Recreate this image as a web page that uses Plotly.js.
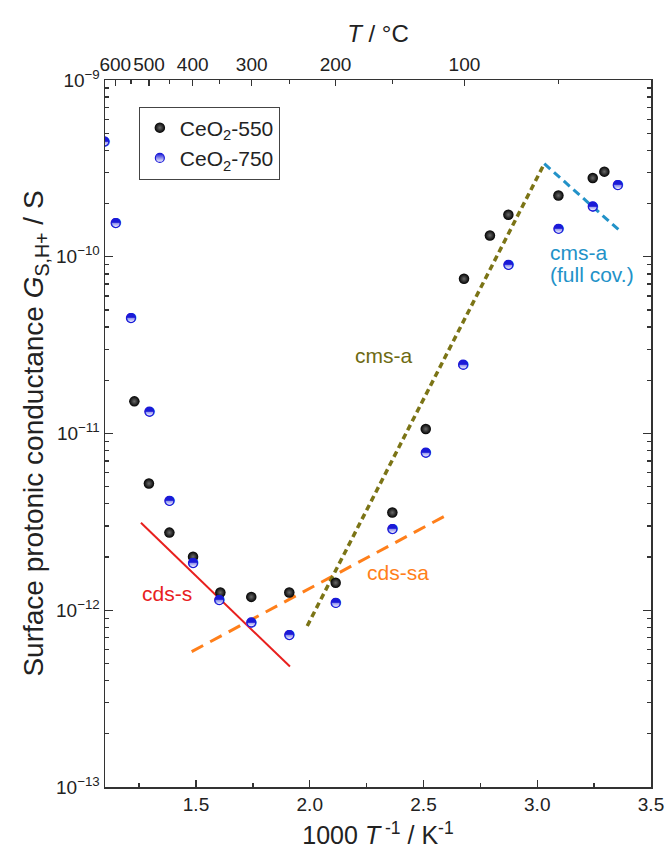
<!DOCTYPE html>
<html>
<head>
<meta charset="utf-8">
<script src="https://cdn.plot.ly/plotly-3.0.1.min.js"></script>
<style>html,body{margin:0;padding:0;background:#fff;}#chart{width:667px;height:855px;}</style>
</head>
<body>
<div id="chart"></div>
<script>
// ---- data ----
const x550 = [1.229, 1.293, 1.383, 1.487, 1.607, 1.743, 1.910, 2.114, 2.363, 2.510, 2.678, 2.792, 2.873, 3.093, 3.244, 3.295];
const y550 = [1.52e-11, 5.21e-12, 2.75e-12, 2.01e-12, 1.26e-12, 1.19e-12, 1.26e-12, 1.43e-12, 3.57e-12, 1.06e-11, 7.5e-11, 1.32e-10, 1.73e-10, 2.22e-10, 2.79e-10, 3.03e-10];
const x750 = [1.097, 1.147, 1.214, 1.295, 1.383, 1.487, 1.602, 1.743, 1.910, 2.114, 2.363, 2.510, 2.674, 2.873, 3.093, 3.244, 3.354];
const y750 = [4.5e-10, 1.55e-10, 4.5e-11, 1.33e-11, 4.16e-12, 1.85e-12, 1.14e-12, 8.55e-13, 7.24e-13, 1.10e-12, 2.88e-12, 7.8e-12, 2.45e-11, 9.0e-11, 1.44e-10, 1.93e-10, 2.54e-10];
const cdsS_x = [1.258, 1.913];
const cdsS_y = [3.13e-12, 4.8e-13];
const cdsSA_x = [1.481, 2.617];
const cdsSA_y = [5.83e-13, 3.54e-12];
const cmsA_x = [1.989, 3.031];
const cmsA_y = [8.15e-13, 3.36e-10];
const cmsAfull_x = [3.031, 3.361];
const cmsAfull_y = [3.36e-10, 1.41e-10];
const seriesNames = ['CeO<sub>2</sub>-550', 'CeO<sub>2</sub>-750'];
const tempMajor = [600, 500, 400, 300, 200, 100];
const tempMinor = [550, 450, 350, 250, 150, 50];
const yExponents = [-13, -12, -11, -10, -9];

// ---- derived tick arrays ----
const toInvT = T => 1000 / (T + 273.15);
const topTickVals = tempMajor.map(toInvT);
const topTickText = tempMajor.map(String);
const topMinorVals = tempMinor.map(toInvT);
const yTickVals = yExponents.map(e => Math.pow(10, e));
const yTickText = yExponents.map(e => '10<sup>\u2212' + (-e) + '</sup>');
const yMinorVals = [];
for (let e = -13; e < -9; e++) for (let k = 2; k <= 9; k++) yMinorVals.push(k * Math.pow(10, e));

const font = 'Liberation Sans, Arial, sans-serif';
const axisCol = '#333333';
const blue = '#1a1ad8';
const halfGlyph = '\u25D3';

const traces = [
  {x: cdsS_x, y: cdsS_y, mode: 'lines', line: {color: '#e8201e', width: 2}, showlegend: false, hoverinfo: 'skip'},
  {x: cdsSA_x, y: cdsSA_y, mode: 'lines', line: {color: '#ff7f1a', width: 3, dash: '13px,8px'}, showlegend: false, hoverinfo: 'skip'},
  {x: cmsA_x, y: cmsA_y, mode: 'lines', line: {color: '#7b7416', width: 3.5, dash: '6px,4px'}, showlegend: false, hoverinfo: 'skip'},
  {x: cmsAfull_x, y: cmsAfull_y, mode: 'lines', line: {color: '#2292c8', width: 3, dash: '8px,5px'}, showlegend: false, hoverinfo: 'skip'},
  {x: x550, y: y550, mode: 'markers', name: seriesNames[0],
   marker: {symbol: 'circle', size: 10.5, color: '#000000', gradient: {type: 'radial', color: '#6a6a6a'}, line: {width: 0}}},
  {x: x750, y: y750, mode: 'markers', name: seriesNames[1],
   marker: {symbol: 'circle', size: 9, color: blue, gradient: {type: 'vertical', color: '#ffffff'}, line: {width: 1.2, color: blue}}},
  {x: x750, y: y750, mode: 'text', text: x750.map(() => halfGlyph), textposition: 'middle center',
   textfont: {family: 'DejaVu Sans', size: 13, color: blue}, showlegend: false, hoverinfo: 'skip'},
  {x: x550, y: y550, xaxis: 'x2', mode: 'markers', marker: {opacity: 0}, showlegend: false, hoverinfo: 'skip'}
];

const layout = {
  width: 667, height: 855,
  margin: {l: 105, r: 16, t: 80, b: 68},
  paper_bgcolor: '#ffffff', plot_bgcolor: '#ffffff',
  font: {family: font, color: '#222222', size: 19},
  showlegend: true,
  legend: {x: 0.062, y: 0.9625, xanchor: 'left', yanchor: 'top', bgcolor: '#ffffff',
           bordercolor: '#444444', borderwidth: 1, font: {size: 21, family: font, color: '#222'},
           tracegroupgap: 0, itemwidth: 30},
  xaxis: {
    range: [1.1, 3.5], tickmode: 'linear', tick0: 1.0, dtick: 0.5, tickformat: '.1f',
    ticks: 'inside', ticklen: 7, tickwidth: 1.3, tickcolor: axisCol,
    showline: true, linecolor: axisCol, linewidth: 1.5, mirror: false,
    showgrid: false, zeroline: false,
    minor: {tickmode: 'linear', tick0: 1.0, dtick: 0.25, ticks: 'inside', ticklen: 4, tickwidth: 1.3, tickcolor: axisCol, showgrid: false},
    tickfont: {size: 19, family: font, color: '#222'},
    title: {text: '1000 <i>T</i><sup> -1</sup> / K<sup>-1</sup>', font: {size: 25, family: font, color: '#222'}, standoff: 12}
  },
  xaxis2: {
    overlaying: 'x', side: 'top', matches: 'x', range: [1.1, 3.5],
    tickmode: 'array', tickvals: topTickVals, ticktext: topTickText, tickangle: 0,
    ticks: 'inside', ticklen: 6, tickwidth: 1.3, tickcolor: axisCol,
    showline: true, linecolor: axisCol, linewidth: 1.5,
    showgrid: false, zeroline: false,
    minor: {tickmode: 'array', tickvals: topMinorVals, ticks: 'inside', ticklen: 4, tickwidth: 1.3, tickcolor: axisCol, showgrid: false},
    tickfont: {size: 19, family: font, color: '#222'},
    title: {text: '<i>T</i> / \u00B0C', font: {size: 24, family: font, color: '#222'}, standoff: 4}
  },
  yaxis: {
    type: 'log', range: [-13, -9],
    tickmode: 'array', tickvals: yTickVals, ticktext: yTickText,
    ticks: 'inside', ticklen: 8, tickwidth: 1.3, tickcolor: axisCol,
    showline: true, linecolor: axisCol, linewidth: 1.5, mirror: 'ticks',
    showgrid: false, zeroline: false,
    minor: {tickmode: 'array', tickvals: yMinorVals, ticks: 'inside', ticklen: 4, tickwidth: 1.3, tickcolor: axisCol, showgrid: false},
    tickfont: {size: 19, family: font, color: '#222'},
    title: {text: 'Surface protonic conductance <i>G</i><sub>S,H+</sub> / S', font: {size: 28, family: font, color: '#222'}, standoff: 4}
  },
  annotations: [
    {x: 1.371, y: -11.904, xref: 'x', yref: 'y', text: 'cds-s', showarrow: false, font: {size: 21, color: '#e8201e', family: font}},
    {x: 2.389, y: -11.787, xref: 'x', yref: 'y', text: 'cds-sa', showarrow: false, font: {size: 21, color: '#ff7f1a', family: font}},
    {x: 2.322, y: -10.56, xref: 'x', yref: 'y', text: 'cms-a', showarrow: false, font: {size: 21, color: '#6e6a12', family: font}},
    {x: 3.047, y: -9.976, xref: 'x', yref: 'y', xanchor: 'left', text: 'cms-a', showarrow: false, font: {size: 21, color: '#2292c8', family: font}},
    {x: 3.047, y: -10.100, xref: 'x', yref: 'y', xanchor: 'left', text: '(full cov.)', showarrow: false, font: {size: 21, color: '#2292c8', family: font}}
  ]
};

Plotly.newPlot('chart', traces, layout, {staticPlot: true, displayModeBar: false});
</script>
</body>
</html>
